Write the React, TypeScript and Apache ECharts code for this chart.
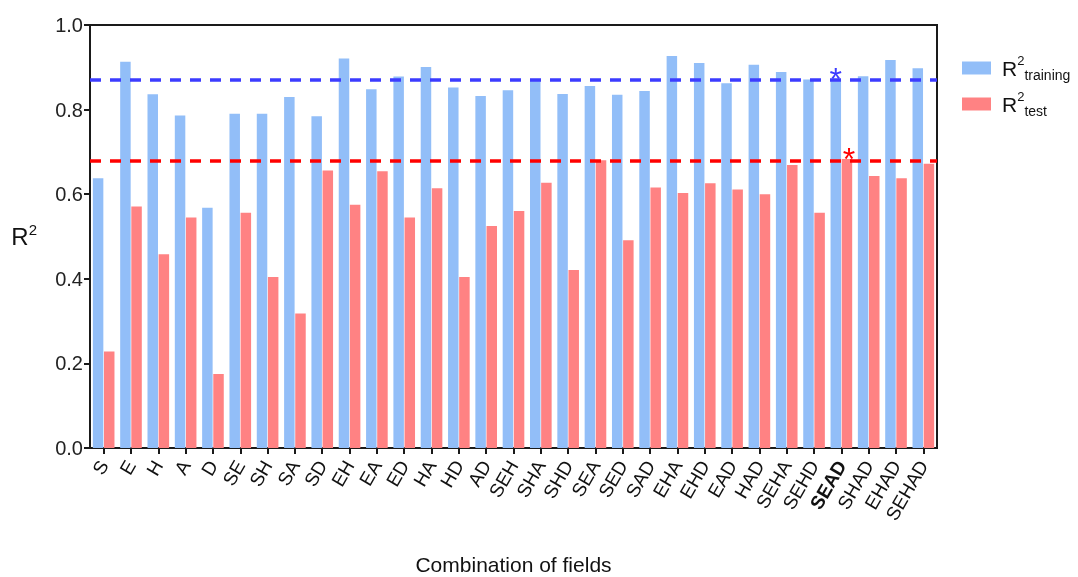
import React, { useEffect, useRef } from "react";
import * as echarts from "echarts";

const categories = ["S", "E", "H", "A", "D", "SE", "SH", "SA", "SD", "EH", "EA", "ED", "HA", "HD", "AD", "SEH", "SHA", "SHD", "SEA", "SED", "SAD", "EHA", "EHD", "EAD", "HAD", "SEHA", "SEHD", "SEAD", "SHAD", "EHAD", "SEHAD"];
const trainingValues = [0.638, 0.913, 0.836, 0.786, 0.568, 0.790, 0.790, 0.830, 0.784, 0.921, 0.848, 0.878, 0.901, 0.852, 0.832, 0.846, 0.869, 0.837, 0.856, 0.835, 0.844, 0.927, 0.910, 0.862, 0.906, 0.889, 0.871, 0.872, 0.879, 0.917, 0.898];
const testValues = [0.228, 0.571, 0.458, 0.545, 0.175, 0.556, 0.404, 0.318, 0.656, 0.575, 0.654, 0.545, 0.614, 0.404, 0.525, 0.560, 0.627, 0.421, 0.680, 0.491, 0.616, 0.603, 0.626, 0.611, 0.600, 0.669, 0.556, 0.683, 0.643, 0.638, 0.672];
const trainingRef = 0.872;
const testRef = 0.683;
const bestCategory = "SEAD";
const yTicks = [0, 0.2, 0.4, 0.6, 0.8, 1.0];

const FONT = "Liberation Sans, Arial, sans-serif";
const BLUE_BAR = "#92bef8";
const RED_BAR = "#ff8283";
const BLUE_LINE = "#3c3cff";
const RED_LINE = "#ff0000";

export default function App() {
  const ref = useRef<HTMLDivElement>(null);
  useEffect(() => {
    if (!ref.current) return;
    const chart = echarts.init(ref.current, null, { renderer: "svg" });
    const bestIdx = categories.indexOf(bestCategory);
    chart.setOption({
      animation: false,
      textStyle: { fontFamily: FONT },
      grid: {
        left: 90,
        right: 141,
        top: 25,
        bottom: 129,
        containLabel: false,
        outerBoundsMode: "none",
        show: true,
        borderColor: "#1a1a1a",
        borderWidth: 2,
        backgroundColor: "transparent",
      },
      legend: {
        orient: "vertical",
        left: 957,
        top: 49,
        itemWidth: 29,
        itemHeight: 13,
        itemGap: 8,
        icon: "rect",
        data: ["training", "test"],
        formatter: (name: string) => `{r|R}{sup|2}{sub|${name}}`,
        textStyle: {
          fontFamily: FONT,
          color: "#111",
          padding: [0, 0, 0, 6],
          rich: {
            r: { fontSize: 21, lineHeight: 28, color: "#111", fontFamily: FONT },
            sup: { fontSize: 13, lineHeight: 28, verticalAlign: "top", color: "#111", fontFamily: FONT },
            sub: { fontSize: 14, lineHeight: 28, verticalAlign: "bottom", color: "#111", fontFamily: FONT },
          },
        },
      },
      xAxis: {
        type: "category",
        data: categories,
        boundaryGap: true,
        name: "Combination of fields",
        nameLocation: "middle",
        nameGap: 106,
        nameTextStyle: { fontSize: 21, color: "#111", fontFamily: FONT },
        axisLine: { show: true, lineStyle: { color: "#1a1a1a", width: 2 } },
        axisTick: { show: true, alignWithLabel: true, length: 6, lineStyle: { color: "#1a1a1a", width: 2 } },
        axisLabel: {
          rotate: 60,
          interval: 0,
          margin: 14,
          fontSize: 19,
          color: "#111",
          fontFamily: FONT,
          formatter: (v: string) => (v === bestCategory ? `{b|${v}}` : v),
          rich: { b: { fontWeight: "bold", fontSize: 19, color: "#111", fontFamily: FONT } },
        },
        splitLine: { show: false },
      },
      yAxis: {
        type: "value",
        min: 0,
        max: 1,
        interval: 0.2,
        name: "{r|R}{sup|2}",
        nameLocation: "middle",
        nameRotate: 0,
        nameGap: 53,
        nameTextStyle: {
          fontFamily: FONT,
          rich: {
            r: { fontSize: 24, lineHeight: 30, color: "#111", fontFamily: FONT },
            sup: { fontSize: 15, lineHeight: 30, verticalAlign: "top", color: "#111", fontFamily: FONT },
          },
        },
        axisLine: { show: true, lineStyle: { color: "#1a1a1a", width: 2 } },
        axisTick: { show: true, length: 6, lineStyle: { color: "#1a1a1a", width: 2 } },
        axisLabel: {
          fontSize: 20,
          color: "#222",
          margin: 7,
          fontFamily: FONT,
          formatter: (v: number) => (yTicks.includes(Math.round(v * 10) / 10) ? v.toFixed(1) : ""),
        },
        splitLine: { show: false },
      },
      series: [
        {
          name: "refs",
          type: "line",
          data: [],
          z: 1,
          silent: true,
          markLine: {
            silent: true,
            symbol: "none",
            label: { show: false },
            data: [
              { yAxis: trainingRef, lineStyle: { color: BLUE_LINE, width: 3.5, type: [11, 9] } },
              { yAxis: testRef, lineStyle: { color: RED_LINE, width: 3.5, type: [11, 9] } },
            ],
          },
        },
        {
          name: "training",
          type: "bar",
          data: trainingValues,
          z: 3,
          barWidth: 10.5,
          barGap: "6%",
          itemStyle: { color: BLUE_BAR },
          markPoint: {
            symbol: "circle",
            symbolSize: 1,
            itemStyle: { color: "transparent" },
            label: {
              show: true,
              formatter: "*",
              color: BLUE_LINE,
              fontSize: 32,
              fontFamily: FONT,
              offset: [0, 0],
            },
            data: [{ coord: [bestIdx, trainingRef] }],
          },
        },
        {
          name: "test",
          type: "bar",
          data: testValues,
          z: 3,
          barWidth: 10.5,
          itemStyle: { color: RED_BAR },
          markPoint: {
            symbol: "circle",
            symbolSize: 1,
            itemStyle: { color: "transparent" },
            label: {
              show: true,
              formatter: "*",
              color: RED_LINE,
              fontSize: 32,
              fontFamily: FONT,
              offset: [2, 0],
            },
            data: [{ coord: [bestIdx, testRef] }],
          },
        },
      ],
    });
    return () => chart.dispose();
  }, []);
  return <div ref={ref} style={{ position: "fixed", left: 0, top: 0, width: 1078, height: 577 }} />;
}
